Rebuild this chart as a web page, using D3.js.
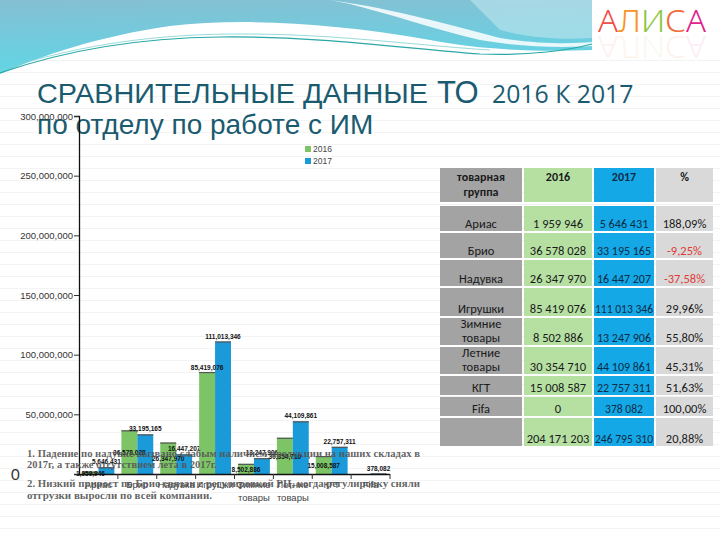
<!DOCTYPE html>
<html><head><meta charset="utf-8">
<script src="https://cdn.jsdelivr.net/npm/d3@7/dist/d3.min.js"></script>
<style>html,body{margin:0;padding:0;background:#fff;}svg{display:block;}</style>
</head><body>
<svg id="c" width="720" height="540"></svg>
<script>
// ---- data ----
const categories = ["Ариас","Брио","Надувка","Игрушки","Зимние товары","Летние товары","КГТ","Fifa"];
const values2016 = [1959946, 36578028, 26347970, 85419076, 8502886, 30354710, 15008587, 0];
const values2017 = [5646431, 33195165, 16447207, 111013346, 13247906, 44109861, 22757311, 378082];
const seriesNames = ["2016","2017"];
const yTicks = [0, 50000000, 100000000, 150000000, 200000000, 250000000, 300000000];
const tableHeader = ["товарная группа","2016","2017","%"];
const tableGroups = ["Ариас","Брио","Надувка","Игрушки","Зимние товары","Летние товары","КГТ","Fifa",""];
const table2016 = ["1 959 946","36 578 028","26 347 970","85 419 076","8 502 886","30 354 710","15 008 587","0","204 171 203"];
const table2017 = ["5 646 431","33 195 165","16 447 207","111 013 346","13 247 906","44 109 861","22 757 311","378 082","246 795 310"];
const tablePct = ["188,09%","-9,25%","-37,58%","29,96%","55,80%","45,31%","51,63%","100,00%","20,88%"];
const notes = [
  "1. Падение по надувке вызвано слабым наличием продукции на наших складах в",
  "2017г, а также отсутствием лета в 2017г.",
  "2. Низкий прирост по Брио связан с регулировкой РЦ, когда регулировку сняли",
  "отгрузки выросли по всей компании."
];

const svg = d3.select("#c");
const colors = {g:"#7cc466", b:"#1a9ad8"};

// ---- background stripes ----
svg.append("g").selectAll("line").data(d3.range(60, 540, 12)).join("line")
  .attr("x1",0).attr("x2",720).attr("y1",d=>d+0.5).attr("y2",d=>d+0.5)
  .attr("stroke","#f3f3f3").attr("stroke-width",1);

// ---- banner ----
const defs = svg.append("defs");
const lg = defs.append("linearGradient").attr("id","bg1").attr("x1","0").attr("y1","0").attr("x2","0.15").attr("y2","1");
lg.append("stop").attr("offset","0").attr("stop-color","#86bfd3");
lg.append("stop").attr("offset","1").attr("stop-color","#5fd6e6");
svg.append("path").attr("d","M0,0 H592 V50 C540,52 480,50 430,40 C330,22 240,18 170,26 C100,36 40,56 0,74 Z").attr("fill","url(#bg1)");
svg.append("path").attr("d","M330,0 C400,10 450,25 500,38 C540,44 570,44 592,42 V46 C560,48 520,47 480,40 C430,28 390,14 350,4 Z").attr("fill","#ffffff").attr("opacity",0.85);
svg.append("path").attr("d","M470,0 H592 V38 C560,40 530,38 500,30 C490,20 480,10 470,0 Z").attr("fill","#bfe6ef").attr("opacity",0.6);
svg.append("path").attr("d","M0,73 C60,52 130,38 220,37 C320,36 400,48 480,54 C530,56 570,50 592,44")
  .attr("fill","none").attr("stroke","#2aa7a6").attr("stroke-width",1.2);
svg.append("path").attr("d","M0,70 C70,48 140,35 230,34 C330,33 410,45 490,50")
  .attr("fill","none").attr("stroke","#7fd0cf").attr("stroke-width",0.8);

// ---- logo ----
const logoColors = ["#f0504a","#f7931e","#8dc63f","#f26b3a","#e2238c"];
const logo = svg.append("text").attr("x",598).attr("y",32).attr("font-family","Noto Sans, sans-serif")
  .attr("font-size",31).attr("font-weight",300).attr("textLength",108).attr("lengthAdjust","spacingAndGlyphs");
"АЛИСА".split("").forEach((ch,i)=>logo.append("tspan").attr("fill",logoColors[i]).text(ch));
const logoR = svg.append("text").attr("x",598).attr("y",-36).attr("transform","scale(1,-1)")
  .attr("font-family","Noto Sans, sans-serif").attr("font-size",31).attr("font-weight",300)
  .attr("textLength",108).attr("lengthAdjust","spacingAndGlyphs").attr("opacity",0.08);
"АЛИСА".split("").forEach((ch,i)=>logoR.append("tspan").attr("fill",logoColors[i]).text(ch));

// ---- title ----
const tf = "Liberation Sans, Arial, sans-serif";
svg.append("text").attr("x",37).attr("y",103).attr("fill","#1b5b70").attr("font-family",tf)
  .attr("font-size",27.5).attr("textLength",391).attr("lengthAdjust","spacingAndGlyphs").text("СРАВНИТЕЛЬНЫЕ ДАННЫЕ");
svg.append("text").attr("x",437).attr("y",103).attr("fill","#1b5b70").attr("font-family",tf)
  .attr("font-size",31).text("ТО");
svg.append("text").attr("x",492).attr("y",103).attr("fill","#1b5b70").attr("font-family","Open Sans, sans-serif")
  .attr("font-size",24.8).text("2016 К 2017");
svg.append("text").attr("x",37).attr("y",134).attr("fill","#1b5b70").attr("font-family",tf)
  .attr("font-size",28).text("по отделу по работе с ИМ");

// ---- chart ----
const y = d3.scaleLinear().domain([0,300000000]).range([474,116]);
const x0 = d3.scaleBand().domain(categories).range([79,390]).padding(0);
const x1 = d3.scaleBand().domain(seriesNames).range([0,x0.bandwidth()]).paddingInner(0).paddingOuter(0.22);

const yAxis = d3.axisLeft(y).tickValues(yTicks).tickSize(5).tickFormat(d=> d===0 ? "" : d3.format(",")(d));
const ga = svg.append("g").attr("transform","translate(79,0)").call(yAxis);
ga.select(".domain").attr("stroke","#111").attr("stroke-width",1.3);
ga.selectAll(".tick line").attr("stroke","#333");
ga.selectAll(".tick text").attr("font-family",tf).attr("font-size",9.5).attr("fill","#333").attr("x",-6);
svg.append("text").attr("x",11).attr("y",y(0)+6).attr("font-family","Lato, sans-serif").attr("font-size",15).attr("fill","#333").text("0");

const data = categories.map((c,i)=>({cat:c, vals:[{s:"2016",v:values2016[i]},{s:"2017",v:values2017[i]}]}));
const groups = svg.append("g").selectAll("g").data(data).join("g").attr("transform",d=>`translate(${x0(d.cat)},0)`);
groups.selectAll("rect").data(d=>d.vals).join("rect")
  .attr("x",d=>x1(d.s)).attr("width",x1.bandwidth())
  .attr("y",d=>y(d.v)).attr("height",d=>y(0)-y(d.v))
  .attr("fill",d=>d.s==="2016"?colors.g:colors.b);
groups.selectAll("line.top").data(d=>d.vals.filter(v=>v.v>0)).join("line").attr("class","top")
  .attr("x1",d=>x1(d.s)).attr("x2",d=>x1(d.s)+x1.bandwidth())
  .attr("y1",d=>y(d.v)+0.5).attr("y2",d=>y(d.v)+0.5).attr("stroke","#555").attr("stroke-width",1.2);
groups.selectAll("text.lbl").data(d=>d.vals.filter(v=>v.v>0)).join("text").attr("class","lbl")
  .attr("x",d=>x1(d.s)+x1.bandwidth()/2)
  .attr("y",d=>{
    if(d.s==="2017") return y(d.v)-3;
    const h = y(0)-y(d.v);
    return h>60 ? y(d.v)-2 : (y(d.v)+y(0))/2+3;
  })
  .attr("text-anchor","middle").attr("font-family",tf)
  .attr("font-size",6.5).attr("font-weight","bold").attr("fill","#111").text(d=>d3.format(",")(d.v));

// x axis with boundary ticks
svg.append("line").attr("x1",79).attr("x2",390).attr("y1",y(0)+0.5).attr("y2",y(0)+0.5).attr("stroke","#111").attr("stroke-width",1.3);
svg.append("g").selectAll("line").data(categories.map(c=>x0(c)+x0.bandwidth())).join("line")
  .attr("x1",d=>d).attr("x2",d=>d).attr("y1",y(0)).attr("y2",y(0)+5).attr("stroke","#333");
const xl = svg.append("g").selectAll("text").data(categories).join("text")
  .attr("x",d=>x0(d)+x0.bandwidth()/2).attr("y",y(0)+14).attr("text-anchor","middle")
  .attr("font-family",tf).attr("font-size",9.5).attr("fill","#444");
xl.each(function(d){
  const parts = d.split(" ");
  d3.select(this).selectAll("tspan").data(parts).join("tspan")
    .attr("x",x0(d)+x0.bandwidth()/2).attr("dy",(p,i)=>i===0?0:13).text(p=>p);
});

// legend
const leg = svg.append("g").selectAll("g").data(seriesNames).join("g").attr("transform",(d,i)=>`translate(305,${146+i*12})`);
leg.append("rect").attr("width",6).attr("height",6).attr("fill",(d,i)=>i===0?colors.g:colors.b);
leg.append("text").attr("x",8).attr("y",6).attr("font-family",tf).attr("font-size",8.5).attr("fill","#444").text(d=>d);

// notes
svg.append("g").selectAll("text").data(notes).join("text")
  .attr("x",27).attr("y",(d,i)=>[457,468,487,499][i])
  .attr("font-family","Liberation Serif, serif").attr("font-weight","bold").attr("font-size",11)
  .attr("fill","#555").attr("fill-opacity",0.92)
  .attr("textLength",(d,i)=>[393,190,393,185][i]).attr("lengthAdjust","spacingAndGlyphs")
  .text(d=>d);

// ---- table ----
const colX = [440,524,594,656], colW = [82,68,60,57];
const colFill = ["#a3a3a3","#b5e0a2","#14a8e6","#d9d9d9"];
const rowY = [168,206,233,260,288,318,347,376,397,418], rowH = [34,25,25,26,28,27,27,19,19,28];
const tbl = svg.append("g").attr("font-family","Carlito, Calibri, Lato, sans-serif");
const rows = [tableHeader].concat(tableGroups.map((g,i)=>[g,table2016[i],table2017[i],tablePct[i]]));
rows.forEach((r,ri)=>{
  r.forEach((txt,ci)=>{
    tbl.append("rect").attr("x",colX[ci]).attr("y",rowY[ri]).attr("width",colW[ci]).attr("height",rowH[ri]).attr("fill",colFill[ci]);
    const lines = (ri===0 || ci===0) ? txt.split(" ") : [txt];
    const cx = colX[ci]+colW[ci]/2;
    const t = tbl.append("text").attr("text-anchor","middle").attr("font-size",ri===0?12:12.5)
      .attr("font-weight",ri===0?"bold":"normal")
      .attr("fill", ci===3 && txt.startsWith("-") ? "#e03a36" : (ci===2 ? "#0d2c48" : "#1a1a1a"));
    if(ri===0){
      lines.forEach((l,li)=>t.append("tspan").attr("x",cx).attr("y",rowY[0]+13+li*15).text(l));
    } else {
      const base = rowY[ri]+rowH[ri]-3;
      lines.forEach((l,li)=>t.append("tspan").attr("x",cx).attr("y",base-(lines.length-1-li)*14).text(l));
    }
    if(ci===2 && ri>0) t.attr("textLength",Math.min(58, txt.length*5.4)).attr("lengthAdjust","spacingAndGlyphs");
  });
});
</script>
</body></html>
